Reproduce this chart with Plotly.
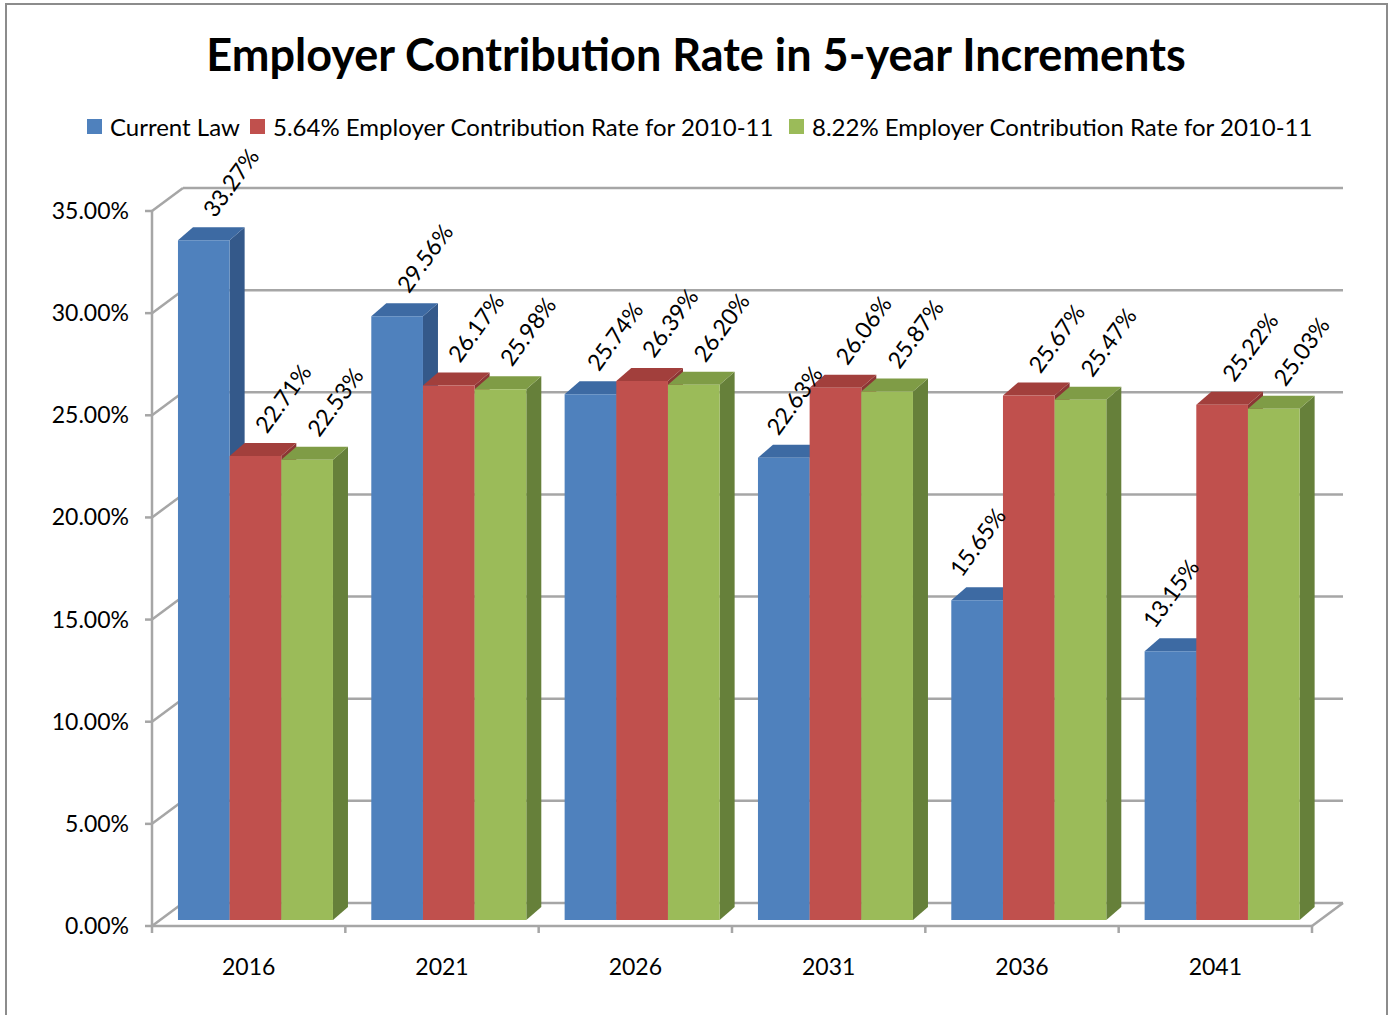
import plotly.graph_objects as go

# ---------------- data ----------------
years = ["2016", "2021", "2026", "2031", "2036", "2041"]
series_names = [
    "Current Law",
    "5.64% Employer Contribution Rate for 2010-11",
    "8.22% Employer Contribution Rate for 2010-11",
]
current_law = [33.27, 29.56, 25.74, 22.63, 15.65, 13.15]
rate_564 = [22.71, 26.17, 26.39, 26.06, 25.67, 25.22]
rate_822 = [22.53, 25.98, 26.20, 25.87, 25.47, 25.03]
y_ticks = [0, 5, 10, 15, 20, 25, 30, 35]
y_tick_labels = [f"{v:.2f}%" for v in y_ticks]

series_values = [current_law, rate_564, rate_822]
front_colors = ["#4F81BD", "#C0504D", "#9BBB59"]
top_colors = ["#3D6AA3", "#A23F3C", "#7F9C46"]
side_colors = ["#34598A", "#8B3634", "#66803A"]

FONT = "Lato, 'Open Sans', sans-serif"

# ---------------- geometry (pixels -> data units) ----------------
W, H = 1392, 1015
ML, MR, MT, MB = 140, 32, 175, 75
FRONT_LEFT_PX, FRONT_RIGHT_PX = 152, 1312
FLOOR_PX, TOP_PX = 926, 211
n = len(years)
ymax = y_ticks[-1]
SX = (FRONT_RIGHT_PX - FRONT_LEFT_PX) / n
SY = (FLOOR_PX - TOP_PX) / ymax
pw, ph = W - ML - MR, H - MT - MB

x_lo = -0.5 - (FRONT_LEFT_PX - ML) / SX
x_hi = n - 0.5 + (W - MR - FRONT_RIGHT_PX) / SX
y_lo = -(H - MB - FLOOR_PX) / SY
y_hi = (FLOOR_PX - MT) / SY


def dx(px):
    return px / SX


def dy(px):
    return px / SY


def paper_x(px):
    return (px - ML) / pw


def paper_y(py):
    return ((H - MB) - py) / ph


wall_dx, wall_dy = dx(31), dy(23)       # back wall offset
bar_ox, bar_oy = dx(6.8), dy(6)         # bars' front face offset
dep_dx, dep_dy = dx(15), dy(13)         # bar depth
group_w = 155 / SX
bw = group_w / 3

GRID = "#A6A6A6"
GW = 2.5

shapes = []


def line(x0, y0, x1, y1):
    shapes.append(dict(type="line", xref="x", yref="y", x0=x0, y0=y0, x1=x1, y1=y1,
                       line=dict(color=GRID, width=GW), layer="below"))


# back wall gridlines + side wall lines + tick marks
for v in y_ticks:
    line(-0.5 + wall_dx, v + wall_dy, n - 0.5 + wall_dx, v + wall_dy)
    line(-0.5, v, -0.5 + wall_dx, v + wall_dy)
    line(-0.5 - dx(7), v, -0.5, v)
# front floor / axis lines
line(-0.5, 0, n - 0.5, 0)
line(n - 0.5, 0, n - 0.5 + wall_dx, wall_dy)
line(-0.5, 0, -0.5, ymax)
for k in range(n + 1):
    line(k - 0.5, 0, k - 0.5, -dy(7))


def poly(pts, color):
    d = "M " + " L ".join(f"{px},{py}" for px, py in pts) + " Z"
    shapes.append(dict(type="path", xref="x", yref="y", path=d, fillcolor=color,
                       line=dict(width=0), layer="below"))


annotations = []
fig = go.Figure()
for s, (name, vals) in enumerate(zip(series_names, series_values)):
    fig.add_trace(go.Bar(
        x=[k + bar_ox for k in range(n)], y=vals, base=bar_oy, name=name,
        marker=dict(color=front_colors[s], line=dict(width=0)),
        hoverinfo="skip",
    ))
    for k, v in enumerate(vals):
        xc = k + bar_ox - group_w / 2 + (s + 0.5) * bw
        x0, x1 = xc - bw / 2, xc + bw / 2
        y0, y1 = bar_oy, bar_oy + v
        # side face
        poly([(x1, y0), (x1, y1), (x1 + dep_dx, y1 + dep_dy), (x1 + dep_dx, y0 + dep_dy)],
             side_colors[s])
        # top face
        poly([(x0, y1), (x1, y1), (x1 + dep_dx, y1 + dep_dy), (x0 + dep_dx, y1 + dep_dy)],
             top_colors[s])
        # label placement: shift right unless the neighbouring bar is taller
        if s < len(series_values) - 1:
            nxt = series_values[s + 1][k]
            xs = max(0.0, 27 - 5 * max(0.0, nxt - v))
        else:
            xs = 27
        annotations.append(dict(
            x=xc, y=y1, xref="x", yref="y", text=f"{v:.2f}%", showarrow=False,
            textangle=-54, xanchor="center", yanchor="middle", xshift=xs, yshift=58,
            font=dict(family=FONT, size=23, color="black"),
        ))

# legend (drawn manually, single row like the original)
legend_text_px = [108, 271, 810]
LEG_Y = 126.5
for s, name in enumerate(series_names):
    tx = legend_text_px[s]
    shapes.append(dict(type="rect", xref="paper", yref="paper",
                       x0=paper_x(tx - 21), x1=paper_x(tx - 6),
                       y0=paper_y(LEG_Y + 7.5), y1=paper_y(LEG_Y - 7.5),
                       fillcolor=front_colors[s], line=dict(width=0)))
    annotations.append(dict(x=paper_x(tx), y=paper_y(LEG_Y), xref="paper", yref="paper",
                            text=name, showarrow=False, xanchor="left", yanchor="middle",
                            font=dict(family=FONT, size=24, color="black")))

# chart border
shapes.append(dict(type="rect", xref="paper", yref="paper",
                   x0=paper_x(6), x1=paper_x(1387),
                   y0=paper_y(H + 10), y1=paper_y(4),
                   line=dict(color="#8C8C8C", width=2), fillcolor="rgba(0,0,0,0)",
                   layer="above"))

fig.update_layout(
    width=W, height=H,
    margin=dict(l=ML, r=MR, t=MT, b=MB),
    paper_bgcolor="white", plot_bgcolor="white",
    barmode="group", bargap=1 - group_w, bargroupgap=0,
    title=dict(text="<b>Employer Contribution Rate in 5-year Increments</b>",
               x=0.5, xref="container", xanchor="center",
               y=1 - 55 / H, yref="container", yanchor="middle",
               font=dict(family=FONT, size=45, color="black")),
    showlegend=False,
    xaxis=dict(range=[x_lo, x_hi], tickvals=list(range(n)), ticktext=years,
               showgrid=False, zeroline=False, showline=False, ticks="",
               tickfont=dict(family=FONT, size=23, color="black"),
               ticklabelstandoff=11, fixedrange=True),
    yaxis=dict(range=[y_lo, y_hi], tickvals=y_ticks, ticktext=y_tick_labels,
               showgrid=False, zeroline=False, showline=False, ticks="",
               tickfont=dict(family=FONT, size=23, color="black"),
               ticklabelstandoff=10, fixedrange=True),
    shapes=shapes,
    annotations=annotations,
)

fig.write_html("out.html")
